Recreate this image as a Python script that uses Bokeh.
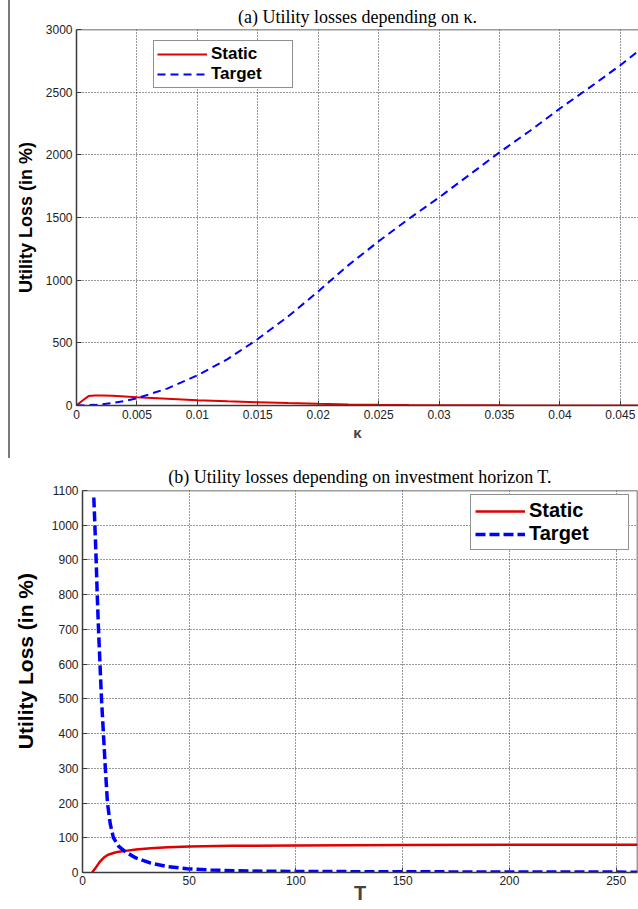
from bokeh.plotting import figure
from bokeh.models import Range1d, FixedTicker, Span, Div
from bokeh.layouts import column, row
from bokeh.embed import file_html
from bokeh.resources import INLINE

# ---------------- data: panel (a) ----------------
kappa = [0, 0.0005, 0.001, 0.0015, 0.002, 0.003, 0.004, 0.005, 0.0075, 0.01,
         0.0125, 0.015, 0.0175, 0.02, 0.0225, 0.025, 0.0275, 0.03, 0.0325,
         0.035, 0.0375, 0.04, 0.0425, 0.045, 0.0465]
static_kappa = [0, 40, 75, 80, 80, 77, 72, 66, 54, 42, 33, 26, 19, 13, 8, 5,
                3, 2, 1.5, 1, 0.7, 0.5, 0.4, 0.3, 0.3]
target_kappa = [0, 1, 3, 5, 8, 20, 35, 58, 135, 240, 370, 530, 710, 910, 1120,
                1310, 1490, 1660, 1840, 2020, 2190, 2370, 2540, 2715, 2830]
kappa_ticks = [0, 0.005, 0.01, 0.015, 0.02, 0.025, 0.03, 0.035, 0.04, 0.045]
kappa_tick_labels = ["0", "0.005", "0.01", "0.015", "0.02", "0.025", "0.03",
                     "0.035", "0.04", "0.045"]
loss_ticks_a = [0, 500, 1000, 1500, 2000, 2500, 3000]

# ---------------- data: panel (b) ----------------
horizon_static = [4.5, 6, 8, 10, 12, 14.5, 17, 21, 25, 32, 40, 50, 70, 100,
                  150, 200, 260]
static_horizon = [0, 12, 30, 43, 51, 56, 60, 63, 66, 70, 73, 75, 77, 78, 79,
                  80, 80]
horizon_target = [5.3, 5.8, 6.4, 6.9, 7.5, 8.2, 8.9, 9.8, 10.7, 11.7, 13, 14.5,
                  17, 20, 25, 32, 40, 49, 60, 80, 100, 150, 200, 260]
target_horizon = [1080, 1000, 900, 800, 700, 600, 500, 400, 300, 200, 140, 100,
                  75, 60, 42, 27, 17, 11, 7, 4, 3, 2, 1.5, 1]
horizon_ticks = [0, 50, 100, 150, 200, 250]
loss_ticks_b = [0, 100, 200, 300, 400, 500, 600, 700, 800, 900, 1000, 1100]

title_a = "(a) Utility losses depending on \u03ba."
title_b = "(b) Utility losses depending on investment horizon T."
ylabel = "Utility Loss (in %)"

RED = "#e00000"
BLUE = "#0000ff"
AXIS = "#3a3a3a"


def style(p, xticks, yticks, ylabel_text, ylabel_size, ylabel_standoff):
    p.background_fill_color = "white"
    p.border_fill_color = "white"
    p.outline_line_color = None
    p.title.text_font = "Liberation Serif"
    p.title.text_font_style = "normal"
    p.title.text_font_size = "18px"
    p.title.align = "center"
    p.title.vertical_align = "middle"
    p.title.text_color = "black"
    p.xaxis.ticker = FixedTicker(ticks=xticks)
    p.yaxis.ticker = FixedTicker(ticks=yticks)
    for ax in (p.xaxis[0], p.yaxis[0]):
        ax.axis_line_color = AXIS
        ax.axis_line_width = 1.5
        ax.major_tick_line_color = AXIS
        ax.major_tick_in = 5
        ax.major_tick_out = 0
        ax.minor_tick_line_color = None
        ax.major_label_text_font = "Liberation Sans"
        ax.major_label_text_font_size = "12px"
        ax.major_label_text_color = "#222222"
        ax.major_label_standoff = 4
    p.yaxis.axis_label = ylabel_text
    p.yaxis.axis_label_text_font = "Liberation Sans"
    p.yaxis.axis_label_text_font_style = "bold"
    p.yaxis.axis_label_text_font_size = ylabel_size
    p.yaxis.axis_label_text_color = "black"
    p.yaxis.axis_label_standoff = ylabel_standoff
    for g in (p.xgrid[0], p.ygrid[0]):
        g.grid_line_color = "#303030"
        g.grid_line_dash = "1 2"
        g.grid_line_width = 1


def style_legend(p, loc, size, glyph_w, label_w, pad):
    lg = p.legend[0]
    lg.location = loc
    lg.label_text_font = "Liberation Sans"
    lg.label_text_font_style = "bold"
    lg.label_text_font_size = size
    lg.label_text_color = "black"
    lg.glyph_width = glyph_w
    lg.label_width = label_w
    lg.label_standoff = 4
    lg.padding = pad
    lg.spacing = 0
    lg.margin = 0
    lg.border_line_color = "#222222"
    lg.border_line_width = 1
    lg.background_fill_color = "white"
    lg.background_fill_alpha = 1


# ---------------- panel (a) ----------------
pa = figure(width=628, height=458, x_range=Range1d(0, 0.0465),
            y_range=Range1d(0, 3000), output_backend="svg",
            toolbar_location=None, title=title_a,
            min_border_left=66, min_border_right=0, min_border_top=29,
            min_border_bottom=53)
style(pa, kappa_ticks, loss_ticks_a, ylabel, "18px", 7)
pa.title.standoff = 4
pa.xaxis.major_label_overrides = dict(zip(kappa_ticks, kappa_tick_labels))
pa.xaxis.axis_label = "\u03ba"
pa.xaxis.axis_label_text_font = "Liberation Sans"
pa.xaxis.axis_label_text_font_style = "bold"
pa.xaxis.axis_label_text_font_size = "15px"
pa.xaxis.axis_label_standoff = 2
pa.add_layout(Span(location=3000, dimension="width", line_color=AXIS,
                   line_width=1.5))

pa.line(kappa, static_kappa, line_color=RED, line_width=2, legend_label="Static")
pa.line(kappa, target_kappa, line_color=BLUE, line_width=2, line_dash="8 5",
        legend_label="Target")
style_legend(pa, (77, 317), "17px", 50, 78, 3)

gray_bar = Div(width=2, height=458, margin=(0, 0, 0, 8),
               styles={"background-color": "#7a7a7a"})

# ---------------- panel (b) ----------------
pb = figure(width=638, height=451, x_range=Range1d(0, 260),
            y_range=Range1d(0, 1100), output_backend="svg",
            toolbar_location=None, title=title_b,
            min_border_left=82, min_border_right=1, min_border_top=32,
            min_border_bottom=37)
style(pb, horizon_ticks, loss_ticks_b, "\u00a0" * 7 + ylabel, "21px", 12)
pb.title.standoff = 6
pb.xaxis.major_label_standoff = 3
pb.xaxis.axis_label = "T"
pb.xaxis.axis_label_text_font = "Liberation Sans"
pb.xaxis.axis_label_text_font_style = "bold"
pb.xaxis.axis_label_text_font_size = "20px"
pb.xaxis.axis_label_standoff = -6
pb.add_layout(Span(location=1100, dimension="width", line_color=AXIS,
                   line_width=1.5))
pb.add_layout(Span(location=260, dimension="height", line_color=AXIS,
                   line_width=1.5))

pb.line(horizon_static, static_horizon, line_color=RED, line_width=2.5,
        legend_label="Static")
pb.line(horizon_target, target_horizon, line_color=BLUE, line_width=3.5,
        line_dash="10 4", legend_label="Target")
style_legend(pb, (388, 322), "20px", 50, 95, 4)

layout = column(row(gray_bar, pa), pb)
open("out.html", "w").write(file_html(layout, INLINE))
